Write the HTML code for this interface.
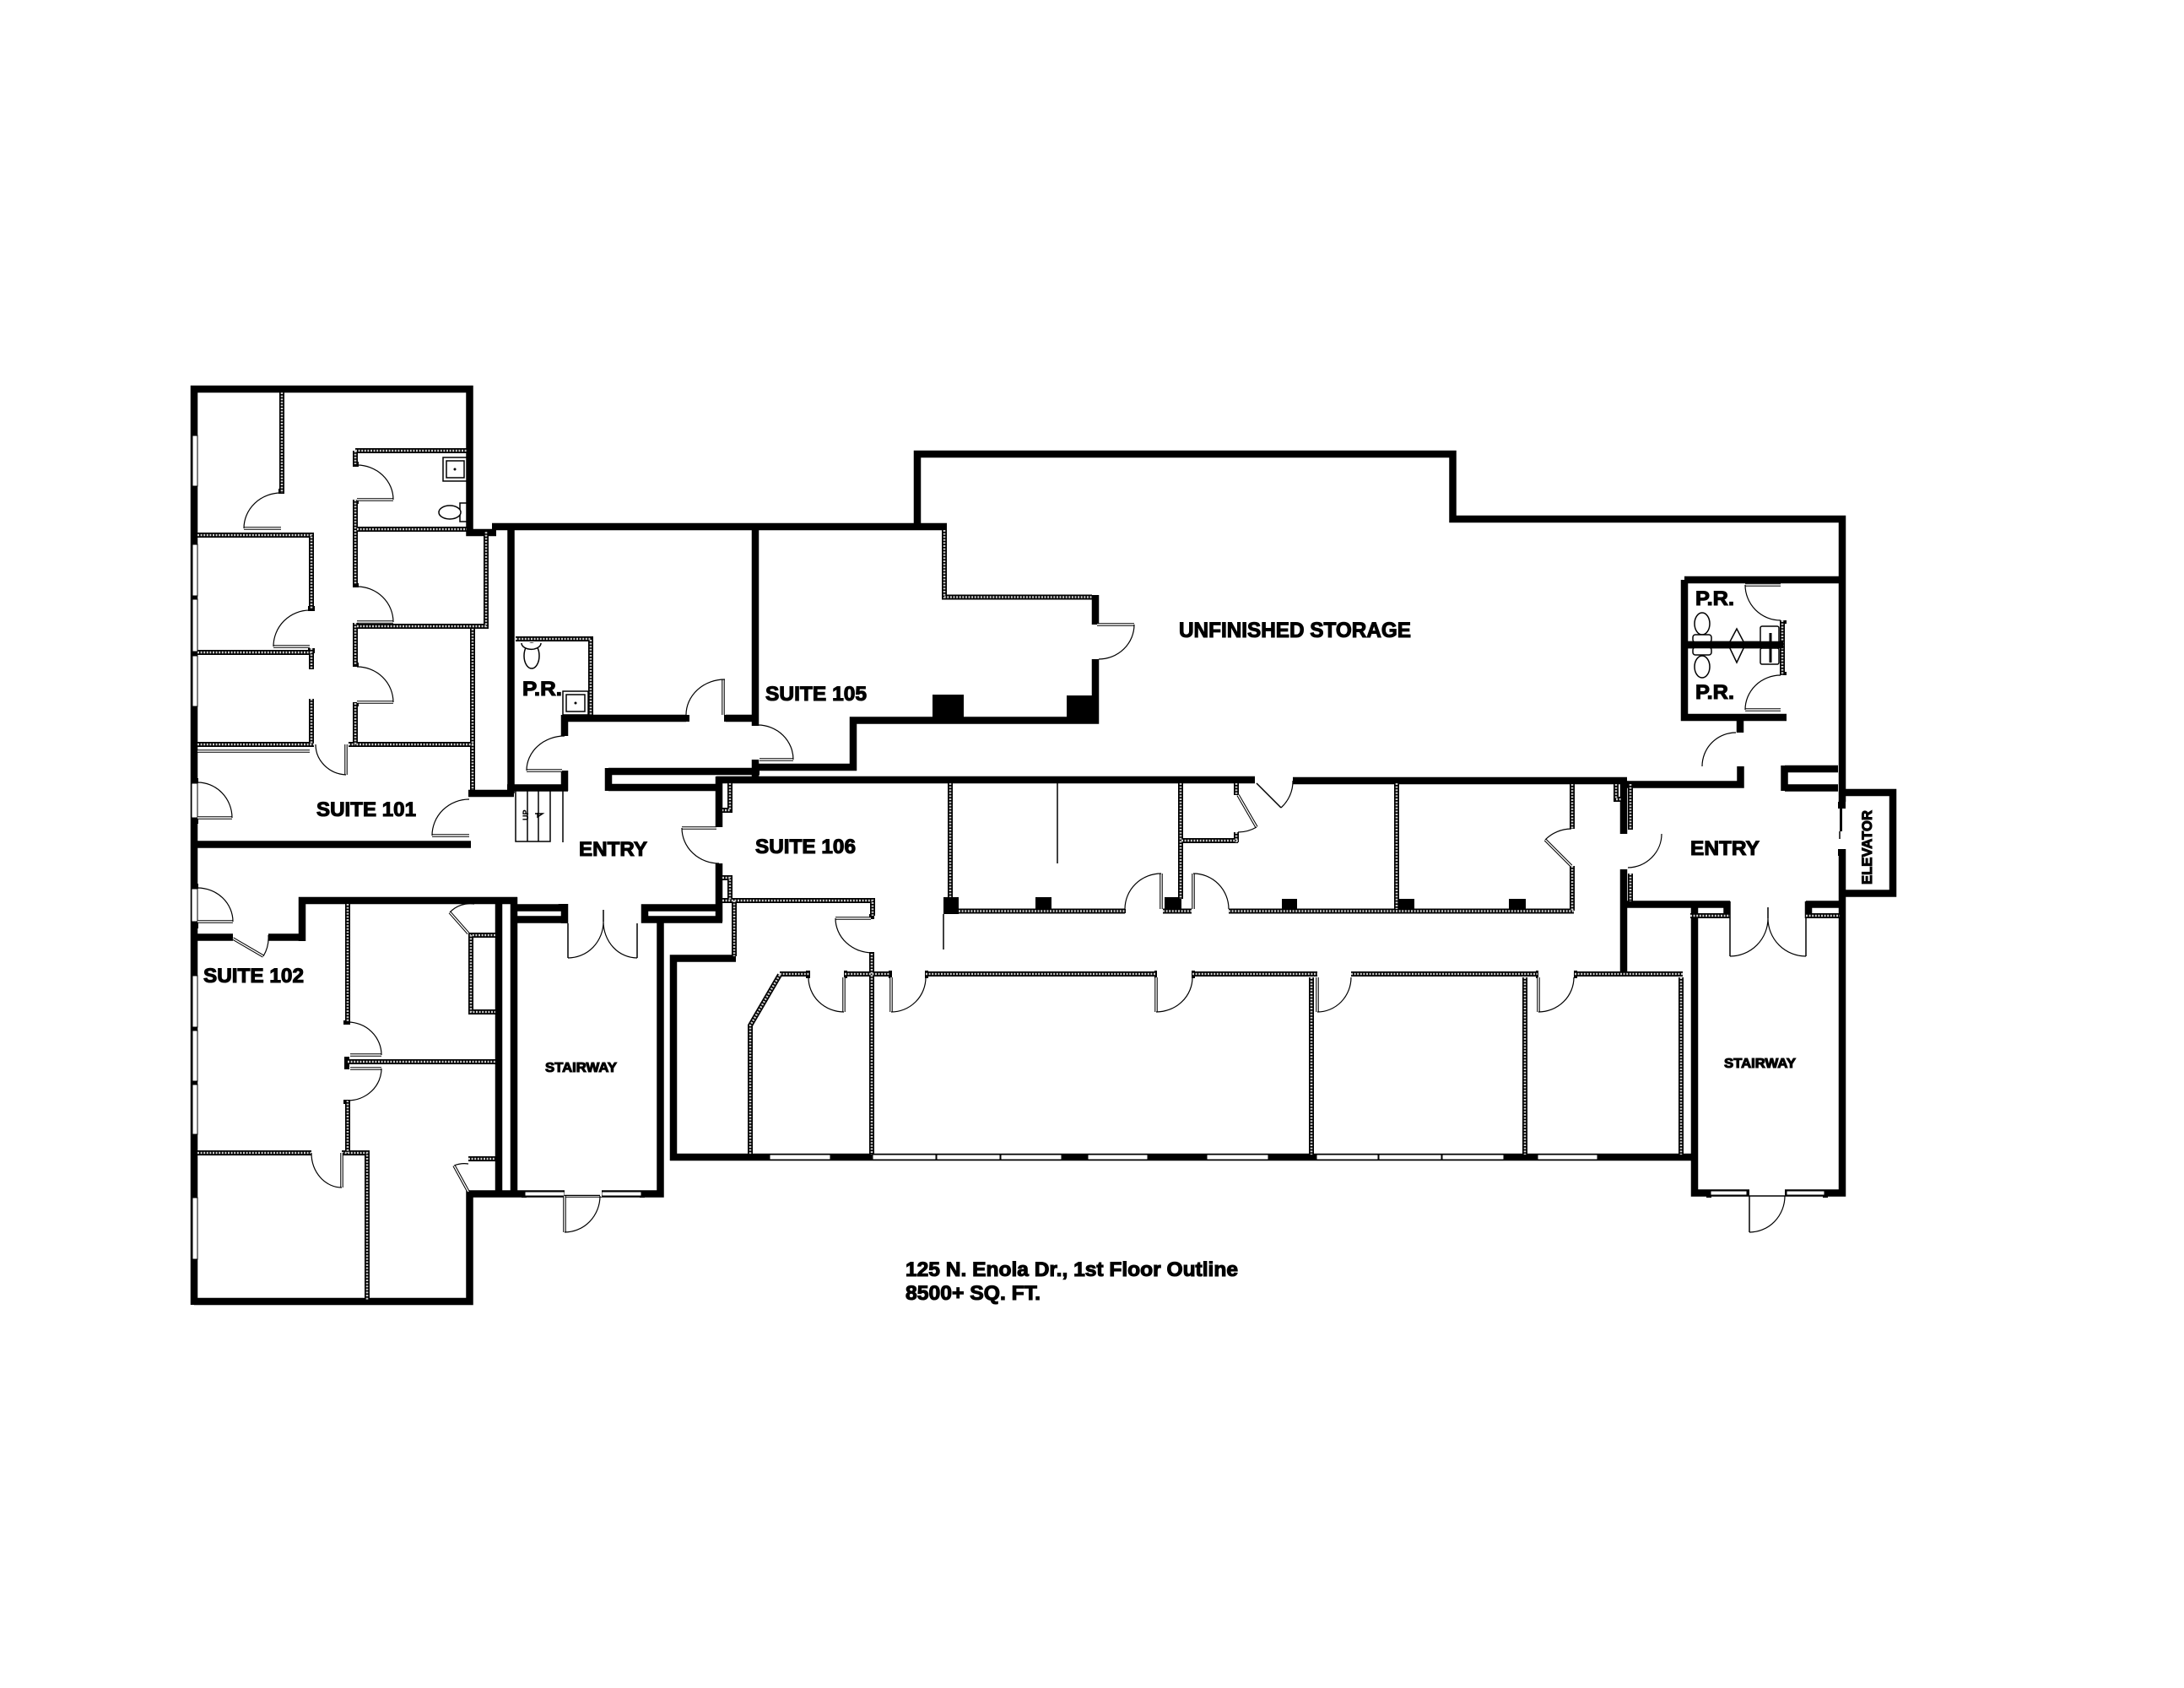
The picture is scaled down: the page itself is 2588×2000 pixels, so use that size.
<!DOCTYPE html>
<html><head><meta charset="utf-8"><title>125 N. Enola Dr., 1st Floor Outline</title>
<style>
html,body{margin:0;padding:0;background:#fff}
svg{display:block}
.w{fill:none;stroke:#000;stroke-width:8.5;stroke-linejoin:miter}
.a{fill:none;stroke:#000;stroke-width:1.2}
.t{fill:none;stroke:#000;stroke-width:1.5}
.pb{fill:none;stroke:#000;stroke-width:6;stroke-linejoin:miter}
.pw{fill:none;stroke:#ccc;stroke-width:2.6;stroke-dasharray:2 1.6}
.lb{fill:none;stroke:#000;stroke-width:3.5}
.lw{fill:none;stroke:#fff;stroke-width:1.4}
text{font-family:"Liberation Sans",Arial,sans-serif;font-weight:bold;fill:#000;stroke:#000;stroke-width:1.1}
</style></head><body>
<svg xmlns="http://www.w3.org/2000/svg" width="2588" height="2000" viewBox="0 0 2588 2000">
<rect width="2588" height="2000" fill="#fff"/>
<defs>
<path id="P" d="M334 465V584 M234 634H369V722 M234 773H369 M369 768V793 M369 828V882 M234 882H372
M421 534H553 M421 534V550 M421 592V692 M421 738V787 M421 833V882H561 M413 882H421 M423 627H553 M423 742H576V630 M560 745V936
M611 757H700V847
M1119 628V707.5H1294
M412 1071V1211 M412 1304V1366 M234 1366H369 M405 1366H435V1540 M412 1258H587
M587 1108H558V1199H587 M555 1373H587
M865 928V960H856 M856 1040H865V1067 M856 1067H1034V1085 M870 1067V1133
M1033 1130V1368 M1126 928V1063 M1136 1079.5H1333 M1399 928V1065 M1378 1079.5H1412 M1456 1079.5H1865 M1655 928V1077
M1863 929V982 M1863 1026V1079 M1400 996H1467 M1465 928V942 M1465 986V998
M1915 929V947H1921 M1932 929V983 M1932 1035V1068
M924 1154H959 M1001 1154H1055 M1097 1154H1370 M1413 1154H1561 M1601 1154H1822 M1866 1154H1994
M924 1155L889 1215V1368 M1554 1158V1368 M1807 1158V1368 M1992 1158V1368
M2003 1085H2050 M2140 1085H2180 M2112 735V800 M924 1154"/>
<path id="L" d="M289 626H333 M324 766H367 M234 890H367 M410 882V918 M423 592H466 M423 737H466 M423 832H466 M234 969H275 M512 990H556 M234 1092H276
M276 1112L312 1133 M624 913H666 M857 847V805 M900 900H940 M808 981H849 M1300 740H1344 M990 1088H1032
M1000 1158V1199 M1056 1158V1199 M1370 1158V1199 M1561 1158V1199 M1823 1158V1199 M1376 1077V1035 M1414 1077V1035
M1467 942L1489 980 M1862 1026L1831 995 M2068 693H2110 M2068 841H2110 M555 1106L533 1081 M555 1412L538 1381 M415 1250H452 M415 1266H452 M405 1366V1407
M669 1417V1460"/>
</defs>

<!-- main walls -->
<path class="w" d="M230 1546V461H556.5V631H588"/>
<path class="w" d="M230 1542H556.5V1414.5H782.5V1092"/>
<path class="w" d="M583 624H1122"/>
<path class="w" d="M605.5 624V940"/>
<path class="w" d="M555 940H609"/>
<path class="w" d="M895 624V860"/>
<path class="w" d="M669 851H813 M860 851H898"/>
<path class="w" d="M669 847V872 M669 913V937 M601 933.5H673"/>
<path class="w" d="M895 900V920"/>
<path class="w" d="M896 909H1011V853.5H1298V781 M1298 740V705"/>
<path class="w" d="M1087 624V538H1721.5V615H2183V950 M2183 1006V1413.5H2008V1071"/>
<path class="w" d="M798 1375V1135.5H872"/>
<path class="w" d="M794 1371H2012"/>
<path class="w" d="M721 914H900 M721 933H852 M721 910V937"/>
<path class="w" d="M852 920V980 M852 1023V1092"/>
<path class="w" d="M849 924H1487 M1532 925H1928"/>
<path class="w" d="M1924 925V988 M1924 1030V1152"/>
<path class="w" d="M1928 929.5H2062.5V908"/>
<path class="w" d="M1921 1071.5H2050 M2140 1071.5H2183"/>
<path class="w" d="M2046.5 1068V1088 M2143 1068V1088"/>
<path class="w" d="M358 1115V1067H613 M591 1063V1415 M609 1063V1415 M318 1110.5H358 M226 1110.5H276"/>
<path class="w" d="M613 1075.5H666V1071 M613 1089.5H673 M669 1071V1094 M856 1075.5H764V1089.5H856 M760 1089.5H787"/>
<path class="w" d="M1996 687H2183 M1996 687V850H2117"/>
<path class="w" d="M2062 854V868"/>
<path class="w" d="M2000 764H2113"/>
<path class="w" d="M2115 911H2178 M2115 933.5H2178 M2114.5 907V937"/>
<path class="w" d="M2183 939H2243V1058.5H2183"/>
<path class="w" d="M226 1000.5H558" />
<!-- columns -->
<g fill="#000">
<rect x="1105" y="823" width="37" height="30"/><rect x="1264" y="824" width="38" height="30"/>
<rect x="1118" y="1063" width="18" height="20"/><rect x="1227" y="1063" width="19" height="15"/>
<rect x="1380" y="1063" width="20" height="15"/><rect x="1519" y="1065" width="18" height="13"/>
<rect x="1658" y="1065" width="18" height="13"/><rect x="1788" y="1065" width="20" height="13"/>
<!-- jambs -->
<rect x="330" y="579" width="7" height="6"/><rect x="418" y="547" width="7" height="6"/><rect x="418" y="592" width="7" height="5"/>
<rect x="418" y="691" width="7" height="5"/><rect x="418" y="738" width="7" height="5"/><rect x="418" y="785" width="7" height="5"/><rect x="418" y="832" width="7" height="5"/>
<rect x="365" y="718" width="8" height="6"/><rect x="365" y="768" width="8" height="6"/><rect x="226" y="922" width="9" height="6"/><rect x="226" y="970" width="9" height="6"/>
<rect x="226" y="1047" width="9" height="6"/><rect x="226" y="1093" width="9" height="7"/>
<rect x="812" y="847" width="5" height="8"/><rect x="858" y="847" width="5" height="8"/>
<rect x="1030" y="1083" width="6" height="6"/><rect x="1030" y="1128" width="6" height="6"/>
<rect x="408" y="1252" width="6" height="15"/><rect x="407" y="1209" width="8" height="5"/><rect x="407" y="1303" width="8" height="5"/>
<rect x="955" y="1150" width="5" height="9"/><rect x="1000" y="1150" width="4" height="9"/><rect x="1053" y="1150" width="4" height="9"/><rect x="1096" y="1150" width="4" height="9"/>
<rect x="1368" y="1150" width="3" height="9"/><rect x="1412" y="1150" width="4" height="9"/><rect x="1820" y="1150" width="3" height="9"/><rect x="1865" y="1150" width="4" height="9"/>
<rect x="2178" y="950" width="9" height="8"/><rect x="2178" y="1006" width="9" height="8"/><rect x="2180" y="958" width="3" height="27"/>
<rect x="618" y="1411" width="6" height="8"/><rect x="1329" y="1077" width="5" height="5"/>
<rect x="2111" y="735" width="6" height="4"/><rect x="2111" y="796" width="6" height="4"/>
<rect x="2022" y="1411" width="6" height="8"/><rect x="2160" y="1411" width="6" height="8"/><rect x="758" y="1411" width="6" height="8"/>
</g>

<!-- partitions -->
<use href="#P" class="pb"/>
<use href="#P" class="pw"/>

<!-- windows left wall and openings -->
<g fill="#fff" stroke="#000" stroke-width="1">
<rect x="228" y="516" width="6" height="60"/><rect x="228" y="645" width="6" height="61"/><rect x="228" y="710" width="6" height="62"/><rect x="228" y="777" width="6" height="60"/>
<rect x="227" y="928" width="7" height="41"/><rect x="227" y="1053" width="7" height="39"/>
<rect x="228" y="1156" width="6" height="61"/><rect x="228" y="1221" width="6" height="60"/><rect x="228" y="1285" width="6" height="59"/><rect x="228" y="1419" width="6" height="73"/>
</g>
<g fill="#fff" stroke="#000" stroke-width="1">
<rect x="912" y="1368" width="72" height="6"/><rect x="1034" y="1368" width="75" height="6"/><rect x="1110" y="1368" width="75" height="6"/><rect x="1186" y="1368" width="72" height="6"/>
<rect x="1289" y="1368" width="71" height="6"/><rect x="1430" y="1368" width="73" height="6"/><rect x="1560" y="1368" width="73" height="6"/><rect x="1634" y="1368" width="74" height="6"/>
<rect x="1709" y="1368" width="73" height="6"/><rect x="1822" y="1368" width="71" height="6"/>
<rect x="622" y="1412" width="47" height="5"/><rect x="713" y="1412" width="47" height="5"/>
<rect x="2027" y="1411" width="43" height="5"/><rect x="2117" y="1411" width="45" height="5"/>
</g>
<!-- door gaps -->
<g fill="#fff">
<rect x="669" y="1408" width="44" height="10"/><rect x="2073" y="1408" width="42" height="10"/>
<rect x="276" y="1105" width="42" height="10"/>
<rect x="2178" y="958" width="2" height="48"/><rect x="2183" y="958" width="6" height="48"/>
<rect x="1302" y="741" width="4" height="39"/>
</g>
<path class="t" d="M669 1416.5H711 M2073 1417H2115 M2180 985V994 M1118 1083V1125 M1253 928V1023 M667 936V998 M715 1078V1092 M2095 1075V1088 M1376 1035V1077 M2050 1088V1133 M2140 1088V1133 M673 1094V1135 M755 1094V1135"/>
<path class="t" d="M2073 1417V1460 M1489 928L1518 957"/>

<!-- door leaves -->
<use href="#L" class="lb"/>
<use href="#L" class="lw"/>

<!-- door arcs -->
<path class="a" d="M289 626A44 42 0 0 1 333 584 M466 592A43 41 0 0 0 423 551 M466 737A43 42 0 0 0 423 695 M466 832A43 42 0 0 0 423 790
M324 766A43 43 0 0 1 367 723 M410 918A38 36 0 0 1 374 882 M275 969A41 42 0 0 0 234 927 M512 990A44 43 0 0 1 556 947 M276 1092A42 40 0 0 0 234 1052
M624 913A45 41 0 0 1 669 872 M859 805A46 42 0 0 0 813 847 M940 900A42 41 0 0 0 898 859 M808 981A44 42 0 0 0 852 1023 M1344 740A42 41 0 0 1 1302 781 M990 1088A44 41 0 0 0 1034 1129
M1000 1199A42 41 0 0 1 958 1158 M1056 1199A41 41 0 0 0 1097 1158 M1370 1199A43 41 0 0 0 1413 1158 M1561 1199A40 41 0 0 0 1601 1158 M1823 1199A42 41 0 0 0 1865 1158
M1376 1035A43 42 0 0 0 1333 1077 M1414 1035A42 42 0 0 1 1456 1077
M673 1135A42 43 0 0 0 715 1092 M755 1135A40 43 0 0 1 715 1092 M2050 1133A45 45 0 0 0 2095 1088 M2140 1133A45 45 0 0 1 2095 1088
M669 1460A42 43 0 0 0 711 1417 M2073 1460A42 43 0 0 0 2115 1417
M1518 957A42 42 0 0 0 1532 925 M1489 980A44 44 0 0 1 1467 986 M1831 995A44 44 0 0 1 1862 982 M1969 988A41 40 0 0 1 1929 1028
M2068 693A42 42 0 0 0 2110 735 M2068 841A42 41 0 0 1 2110 800 M2017 908A40 40 0 0 1 2057 868
M312 1133A42 42 0 0 0 318 1108 M412 1211A40 39 0 0 1 452 1250 M452 1266A40 38 0 0 1 412 1304 M405 1407A36 41 0 0 1 369 1366
M533 1081A33 33 0 0 1 562 1071 M538 1381A33 33 0 0 1 555 1379"/>

<!-- fixtures -->
<g fill="#fff" stroke="#000" stroke-width="1.5">
<rect x="525" y="542" width="28" height="28"/><rect x="529" y="546" width="21" height="20"/>
<rect x="545" y="596" width="8" height="22"/><ellipse cx="533" cy="607" rx="13" ry="8"/>
<ellipse cx="630" cy="777" rx="9" ry="15"/><path d="M618 762a11 7 0 0 0 23 0"/>
<rect x="667" y="819" width="30" height="28"/><rect x="671" y="823" width="22" height="20"/>
<ellipse cx="2017" cy="739" rx="9" ry="13"/><ellipse cx="2017" cy="790" rx="9" ry="13"/>
<rect x="2006" y="752" width="22" height="9" rx="3"/><rect x="2006" y="767" width="22" height="9" rx="3"/>
<path d="M2058 745L2068 764L2058 785L2048 764Z"/>
<rect x="2086" y="742" width="22" height="20" rx="2"/><rect x="2086" y="768" width="22" height="19" rx="2"/>
</g>
<path class="w" d="M2000 764H2113"/>
<path d="M2098 750V785" stroke="#000" stroke-width="3"/>
<g fill="#000"><circle cx="539" cy="556" r="1.5"/><circle cx="682" cy="833" r="1.5"/></g>
<path class="lb" style="stroke-width:1.5" d="M611 936V997H652V936 M625 936V997 M638 936V997"/>
<path class="t" d="M634 964H643L637 968V963"/>
<text transform="translate(626 972) rotate(-90)" font-size="9" style="stroke-width:.2">UP</text>

<!-- labels -->
<text x="375" y="967" font-size="24" textLength="118" lengthAdjust="spacingAndGlyphs">SUITE 101</text>
<text x="241" y="1164" font-size="24" textLength="119" lengthAdjust="spacingAndGlyphs">SUITE 102</text>
<text x="907" y="830" font-size="24" textLength="120" lengthAdjust="spacingAndGlyphs">SUITE 105</text>
<text x="895" y="1011" font-size="24" textLength="119" lengthAdjust="spacingAndGlyphs">SUITE 106</text>
<text x="686" y="1014" font-size="24" textLength="81" lengthAdjust="spacingAndGlyphs">ENTRY</text>
<text x="2003" y="1013" font-size="24" textLength="82" lengthAdjust="spacingAndGlyphs">ENTRY</text>
<text x="1397" y="755" font-size="25" textLength="275" lengthAdjust="spacingAndGlyphs">UNFINISHED STORAGE</text>
<text x="646" y="1270" font-size="16" textLength="85" lengthAdjust="spacingAndGlyphs">STAIRWAY</text>
<text x="2043" y="1265" font-size="16" textLength="85" lengthAdjust="spacingAndGlyphs">STAIRWAY</text>
<text transform="translate(2218 1048) rotate(-90)" font-size="17" textLength="88" lengthAdjust="spacingAndGlyphs">ELEVATOR</text>
<text x="619" y="824" font-size="24" textLength="47" lengthAdjust="spacingAndGlyphs">P.R.</text>
<text x="2009" y="717" font-size="24" textLength="46" lengthAdjust="spacingAndGlyphs">P.R.</text>
<text x="2009" y="828" font-size="24" textLength="46" lengthAdjust="spacingAndGlyphs">P.R.</text>
<text x="1073" y="1512" font-size="24" textLength="394" lengthAdjust="spacingAndGlyphs">125 N. Enola Dr., 1st Floor Outline</text>
<text x="1073" y="1540" font-size="24" textLength="160" lengthAdjust="spacingAndGlyphs">8500+ SQ. FT.</text>
</svg>
</body></html>
